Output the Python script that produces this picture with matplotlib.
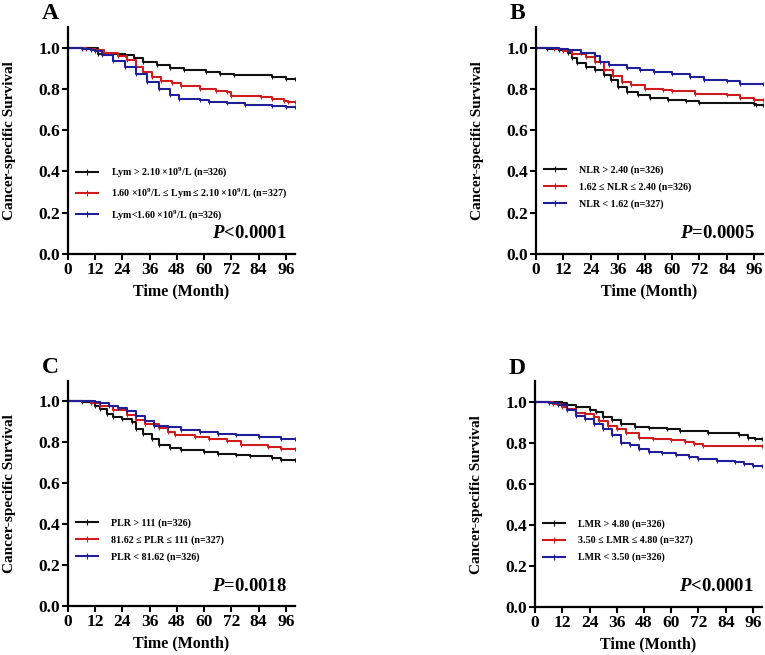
import numpy as np
import matplotlib
matplotlib.use("Agg")
import matplotlib.pyplot as plt

plt.rcParams['font.family'] = ['Liberation Serif', 'DejaVu Serif']
plt.rcParams['font.weight'] = 'bold'
plt.rcParams['mathtext.fontset'] = 'custom'
plt.rcParams['mathtext.rm'] = 'Liberation Serif:bold'
plt.rcParams['mathtext.it'] = 'Liberation Serif:italic:bold'
plt.rcParams['mathtext.bf'] = 'Liberation Serif:bold'
plt.rcParams['mathtext.bfit'] = 'Liberation Serif:italic:bold'

colors = ['#111111', '#d01c1c', '#1f1f9a']

# Panel A - lymphocyte count
a_labels = [r'Lym > 2.10 ×10$^{9}$/L (n=326)',
            r'1.60 ×10$^{9}$/L ≤ Lym ≤ 2.10 ×10$^{9}$/L (n=327)',
            r'Lym<1.60 ×10$^{9}$/L (n=326)']
a_t = [[0, 13, 25, 29, 33, 39, 45, 51, 61, 67, 73, 90, 96, 100],
       [0, 8, 12, 16, 22, 26, 30, 33, 37, 41, 46, 50, 58, 65, 70, 72, 85, 90, 95, 97, 100],
       [0, 6, 10, 12, 15, 20, 25, 30, 35, 40, 45, 49, 58, 62, 70, 78, 90, 96, 100]]
a_s = [[1.0, 0.971, 0.965, 0.948, 0.93, 0.916, 0.90, 0.89, 0.883, 0.87, 0.866, 0.858, 0.849, 0.849],
       [1.0, 0.995, 0.99, 0.975, 0.96, 0.94, 0.907, 0.88, 0.86, 0.838, 0.83, 0.812, 0.80, 0.79, 0.785,
        0.765, 0.76, 0.75, 0.742, 0.735, 0.735],
       [1.0, 0.995, 0.99, 0.982, 0.962, 0.935, 0.908, 0.87, 0.835, 0.80, 0.77, 0.752, 0.745, 0.738,
        0.73, 0.72, 0.717, 0.71, 0.71]]

# Panel B - NLR
b_labels = ['NLR > 2.40 (n=326)', '1.62 ≤ NLR ≤ 2.40 (n=326)', 'NLR < 1.62 (n=327)']
b_t = [[0, 5, 10, 14, 16, 18, 22, 26, 30, 33, 36, 40, 45, 50, 58, 66, 72, 96, 97, 100],
       [0, 8, 12, 16, 22, 26, 30, 34, 38, 42, 48, 56, 60, 70, 84, 90, 96, 100],
       [0, 10, 14, 20, 26, 28, 32, 40, 46, 52, 60, 68, 74, 84, 90, 100]]
b_s = [[1.0, 0.995, 0.99, 0.972, 0.948, 0.924, 0.907, 0.89, 0.867, 0.842, 0.81, 0.785, 0.77, 0.758,
        0.748, 0.741, 0.732, 0.728, 0.72, 0.72],
       [1.0, 0.995, 0.985, 0.969, 0.953, 0.932, 0.89, 0.862, 0.834, 0.818, 0.80, 0.797, 0.79, 0.777,
        0.77, 0.758, 0.748, 0.748],
       [1.0, 0.995, 0.99, 0.972, 0.96, 0.932, 0.915, 0.902, 0.89, 0.883, 0.872, 0.859, 0.845, 0.837,
        0.826, 0.825]]

# Panel C - PLR
c_labels = ['PLR > 111 (n=326)', '81.62 ≤ PLR ≤ 111 (n=327)', 'PLR < 81.62 (n=326)']
c_t = [[0, 6, 10, 12, 14, 17, 20, 24, 28, 30, 33, 37, 40, 45, 50, 60, 66, 74, 80, 90, 94, 100],
       [0, 10, 14, 20, 26, 30, 34, 40, 44, 47, 56, 62, 70, 76, 88, 94, 100],
       [0, 12, 14, 18, 22, 26, 30, 34, 38, 44, 50, 58, 66, 74, 84, 94, 100]]
c_s = [[1.0, 0.995, 0.99, 0.98, 0.963, 0.94, 0.923, 0.915, 0.90, 0.866, 0.842, 0.818, 0.786, 0.774,
        0.761, 0.753, 0.742, 0.737, 0.732, 0.726, 0.713, 0.713],
       [1.0, 0.99, 0.98, 0.96, 0.934, 0.91, 0.89, 0.871, 0.85, 0.834, 0.826, 0.818, 0.805, 0.79, 0.777,
        0.766, 0.766],
       [1.0, 0.995, 0.99, 0.979, 0.968, 0.955, 0.93, 0.903, 0.882, 0.874, 0.863, 0.853, 0.842, 0.834,
        0.826, 0.818, 0.817]]

# Panel D - LMR
d_labels = ['LMR > 4.80 (n=326)', '3.50 ≤ LMR ≤ 4.80 (n=327)', 'LMR < 3.50 (n=326)']
d_t = [[0, 12, 14, 18, 24, 27, 30, 34, 38, 44, 50, 58, 64, 76, 90, 94, 97, 100],
       [0, 8, 12, 14, 18, 22, 26, 28, 32, 36, 40, 46, 52, 60, 66, 70, 74, 100],
       [0, 6, 10, 14, 18, 22, 26, 30, 34, 38, 42, 46, 50, 56, 62, 68, 72, 80, 88, 92, 96, 100]]
d_s = [[1.0, 0.995, 0.987, 0.976, 0.963, 0.95, 0.927, 0.911, 0.894, 0.879, 0.871, 0.866, 0.858,
        0.847, 0.837, 0.826, 0.82, 0.82],
       [1.0, 0.99, 0.976, 0.966, 0.947, 0.939, 0.927, 0.906, 0.882, 0.866, 0.847, 0.826, 0.818, 0.813,
        0.805, 0.794, 0.787, 0.787],
       [1.0, 0.995, 0.987, 0.963, 0.93, 0.915, 0.894, 0.866, 0.837, 0.802, 0.789, 0.769, 0.756, 0.75,
        0.74, 0.734, 0.721, 0.713, 0.705, 0.697, 0.689, 0.689]]

panels = [
    ('A', a_t, a_s, a_labels, r'$\mathbfit{P}$<0.0001', [0.0889, 0.6122, 0.2967, 0.3466]),
    ('B', b_t, b_s, b_labels, r'$\mathbfit{P}$=0.0005', [0.7007, 0.6122, 0.2967, 0.3466]),
    ('C', c_t, c_s, c_labels, r'$\mathbfit{P}$=0.0018', [0.0889, 0.0741, 0.2967, 0.3443]),
    ('D', d_t, d_s, d_labels, r'$\mathbfit{P}$<0.0001', [0.6994, 0.0733, 0.2967, 0.3443]),
]

fig = plt.figure(figsize=(7.65, 6.55), dpi=100)

for letter, times, surv, labels, ptext, pos in panels:
    ax = fig.add_axes(pos)
    for t, s, c, lab in zip(times, surv, colors, labels):
        ax.step(t, s, where='post', color=c, lw=1.5, label=lab,
                marker='|', markersize=3.5, markeredgewidth=0.8)
    ax.set_xlim(0, 100)
    ax.set_ylim(0, 1.1)
    ax.set_xticks(np.arange(0, 97, 12))
    ax.set_yticks(np.arange(0, 1.01, 0.2))
    ax.set_yticklabels(['%.1f' % v for v in np.arange(0, 1.01, 0.2)])
    for side in ['top', 'right']:
        ax.spines[side].set_visible(False)
    for side in ['left', 'bottom']:
        ax.spines[side].set_linewidth(1.6)
    ax.tick_params(direction='out', length=4, width=1.5, labelsize=12.5, pad=1.5)
    ax.set_xlabel('Time (Month)', fontsize=11.5, fontweight='bold', labelpad=4)
    ax.set_ylabel('Cancer-specific Survival', fontsize=11, fontweight='bold', labelpad=16)

    leg = ax.legend(loc='upper left', bbox_to_anchor=(0.035, 0.39), frameon=False,
                    fontsize=7.2, handlelength=2.2, handletextpad=1.3, labelspacing=0.72,
                    borderpad=0, borderaxespad=0, markerscale=1.2)
    for line in leg.get_lines():
        line.set_marker('|')
        line.set_linewidth(1.5)

    ax.text(0.965, 0.07, ptext, transform=ax.transAxes, ha='right', va='baseline',
            fontsize=13.5, fontweight='bold')
    ax.text(-0.115, 1.035, letter, transform=ax.transAxes, ha='left', va='baseline',
            fontsize=17, fontweight='bold')

fig.savefig('out.png', dpi=100, facecolor='white')
